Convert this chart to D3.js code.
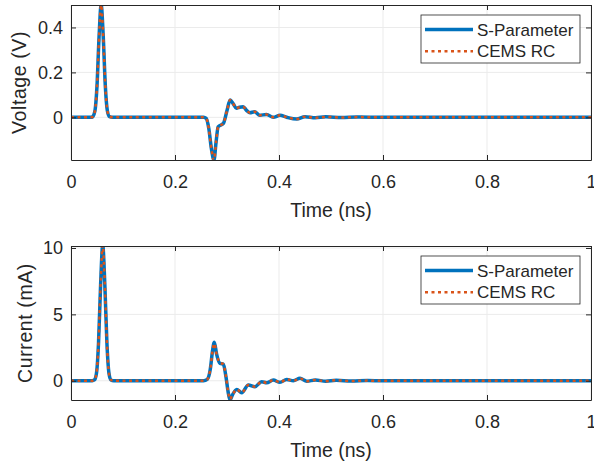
<!DOCTYPE html>
<html>
<head>
<meta charset="utf-8">
<script src="https://cdn.jsdelivr.net/npm/d3@7"></script>
<style>
  body { margin: 0; background: #fff; }
  text { font-family: "Liberation Sans", Arial, sans-serif; fill: #262626; }
</style>
</head>
<body>
<div id="chart"></div>
<script>
// data
var timeV = [0, 0.04, 0.042, 0.046, 0.05, 0.054, 0.058, 0.062, 0.066, 0.07, 0.074, 0.08,
  0.255, 0.26, 0.265, 0.27, 0.275, 0.279, 0.283, 0.293, 0.3, 0.306, 0.312, 0.318, 0.324,
  0.331, 0.338, 0.344, 0.353, 0.363, 0.376, 0.389, 0.402, 0.415, 0.434, 0.45, 0.47, 0.49,
  0.52, 0.55, 0.6, 1.0];
var voltageSP = [0, 0, 0.003, 0.028, 0.14, 0.36, 0.5, 0.36, 0.14, 0.028, 0.003, 0,
  0, -0.005, -0.05, -0.14, -0.19, -0.11, -0.042, -0.027, 0.03, 0.077, 0.06, 0.04, 0.045,
  0.047, 0.03, 0.02, 0.025, 0.009, 0.013, 0.0, 0.009, 0.0, -0.008, 0.003, -0.002, 0.002,
  -0.001, 0.001, 0, 0];
var voltageRC = [0, 0, 0.003, 0.028, 0.14, 0.36, 0.5, 0.36, 0.14, 0.028, 0.003, 0,
  0, -0.005, -0.05, -0.14, -0.19, -0.11, -0.042, -0.027, 0.03, 0.077, 0.06, 0.04, 0.045,
  0.047, 0.03, 0.02, 0.025, 0.009, 0.013, 0.0, 0.009, 0.0, -0.008, 0.003, -0.002, 0.002,
  -0.001, 0.001, 0, 0];

var timeI = [0, 0.041, 0.045, 0.049, 0.053, 0.057, 0.061, 0.065, 0.069, 0.073, 0.077, 0.082,
  0.255, 0.262, 0.268, 0.272, 0.2756, 0.28, 0.2865, 0.2929, 0.298, 0.302, 0.3058, 0.31,
  0.3187, 0.3283, 0.341, 0.3538, 0.3667, 0.3763, 0.389, 0.4019, 0.4148, 0.4275, 0.4404,
  0.4533, 0.47, 0.49, 0.51, 0.54, 0.57, 0.6, 1.0];
var currentSP = [0, 0, 0.06, 0.57, 2.9, 7.3, 10.2, 7.3, 2.9, 0.57, 0.06, 0,
  0, 0.1, 0.9, 2.2, 2.9, 2.0, 1.3, 1.25, 0.3, -0.8, -1.45, -1.1,
  -0.65, -0.9, -0.32, -0.45, -0.07, -0.15, 0.05, -0.12, 0.1, 0, 0.18,
  -0.03, 0.05, -0.03, 0.03, -0.02, 0.01, 0, 0];
var currentRC = [0, 0, 0.06, 0.57, 2.9, 7.3, 10.2, 7.3, 2.9, 0.57, 0.06, 0,
  0, 0.1, 0.9, 2.2, 2.8, 2.0, 1.35, 1.25, 0.3, -0.8, -1.4, -1.1,
  -0.65, -0.9, -0.32, -0.45, -0.07, -0.15, 0.05, -0.12, 0.1, 0, 0.18,
  -0.03, 0.05, -0.03, 0.03, -0.02, 0.01, 0, 0];

var xTicks = [0, 0.2, 0.4, 0.6, 0.8, 1];
var vTicks = [0, 0.2, 0.4];
var iTicks = [0, 5, 10];
var seriesNames = ["S-Parameter", "CEMS RC"];
var colors = ["#0072BD", "#D95319"];

var svgWidth = 594;
var svgHeight = 465;

var svg = d3.select("#chart")
  .append("svg")
  .attr("width", svgWidth)
  .attr("height", svgHeight);

function drawPanel(opts) {
  var left = 71, right = 591;
  var top = opts.top, bottom = opts.bottom;

  var x = d3.scaleLinear().domain([0, 1]).range([left, right]);
  var y = d3.scaleLinear().domain(opts.yDomain).range([bottom, top]);

  var g = svg.append("g");

  // grid
  g.selectAll(".gx").data(xTicks).enter().append("line")
    .attr("x1", d => x(d)).attr("x2", d => x(d))
    .attr("y1", top).attr("y2", bottom)
    .attr("stroke", "#ebebeb").attr("stroke-width", 1);
  g.selectAll(".gy").data(opts.yTicks).enter().append("line")
    .attr("x1", left).attr("x2", right)
    .attr("y1", d => y(d)).attr("y2", d => y(d))
    .attr("stroke", "#ebebeb").attr("stroke-width", 1);

  // lines
  var clipId = "clip" + opts.name;
  svg.append("clipPath").attr("id", clipId)
    .append("rect").attr("x", left).attr("y", top)
    .attr("width", right - left).attr("height", bottom - top);

  var line = d3.line()
    .x(d => x(d[0]))
    .y(d => y(d[1]))
    .curve(d3.curveMonotoneX);

  var lines = g.append("g").attr("clip-path", "url(#" + clipId + ")");
  lines.append("path")
    .datum(opts.time.map((t, i) => [t, opts.s1[i]]))
    .attr("d", line)
    .attr("fill", "none")
    .attr("stroke", colors[0])
    .attr("stroke-width", 3.5)
    .attr("stroke-linejoin", "round");
  lines.append("path")
    .datum(opts.time.map((t, i) => [t, opts.s2[i]]))
    .attr("d", line)
    .attr("fill", "none")
    .attr("stroke", colors[1])
    .attr("stroke-width", 2.5)
    .attr("stroke-dasharray", "3,3.5");

  // box with inward ticks
  var axisColor = "#262626";
  var bottomAxis = d3.axisBottom(x).tickValues(xTicks).tickSizeInner(-5).tickSizeOuter(0)
    .tickFormat(d3.format("~g"));
  var topAxis = d3.axisTop(x).tickValues(xTicks).tickSizeInner(-5).tickSizeOuter(0)
    .tickFormat("");
  var leftAxis = d3.axisLeft(y).tickValues(opts.yTicks).tickSizeInner(-5).tickSizeOuter(0)
    .tickFormat(d3.format("~g"));
  var rightAxis = d3.axisRight(y).tickValues(opts.yTicks).tickSizeInner(-5).tickSizeOuter(0)
    .tickFormat("");

  var ax = [
    g.append("g").attr("transform", `translate(0, ${bottom})`).call(bottomAxis),
    g.append("g").attr("transform", `translate(0, ${top})`).call(topAxis),
    g.append("g").attr("transform", `translate(${left}, 0)`).call(leftAxis),
    g.append("g").attr("transform", `translate(${right}, 0)`).call(rightAxis)
  ];
  ax.forEach(function(a) {
    a.select(".domain").attr("stroke", axisColor).attr("stroke-width", 1);
    a.selectAll(".tick line").attr("stroke", axisColor);
    a.selectAll(".tick text")
      .style("font-family", "Liberation Sans, Arial, sans-serif")
      .style("font-size", "18px")
      .attr("fill", axisColor);
  });
  ax[0].selectAll(".tick text").attr("y", 15.5);
  ax[2].selectAll(".tick text").attr("x", -8);

  // axis labels
  g.append("text")
    .attr("x", (left + right) / 2)
    .attr("y", bottom + 57)
    .attr("text-anchor", "middle")
    .style("font-size", "19.5px")
    .text("Time (ns)");

  g.append("text")
    .attr("transform", `translate(${opts.yLabelX}, ${(top + bottom) / 2}) rotate(-90)`)
    .attr("text-anchor", "middle")
    .style("font-size", "19.5px")
    .style("letter-spacing", "0.6px")
    .text(opts.yLabel);

  // legend
  var lx = 421, ly = top + 10;
  var leg = g.append("g");
  leg.append("rect")
    .attr("x", lx).attr("y", ly)
    .attr("width", 159).attr("height", 48)
    .attr("fill", "#fff")
    .attr("stroke", axisColor).attr("stroke-width", 0.8);
  seriesNames.forEach(function(name, i) {
    var yy = ly + 14.5 + i * 21.7;
    leg.append("line")
      .attr("x1", lx + 4).attr("x2", lx + 52)
      .attr("y1", yy).attr("y2", yy)
      .attr("stroke", colors[i])
      .attr("stroke-width", i === 0 ? 3.5 : 2.5)
      .attr("stroke-dasharray", i === 0 ? null : "3,3.5");
    leg.append("text")
      .attr("x", lx + 56).attr("y", yy + 6)
      .style("font-size", "17px")
      .text(name);
  });
}

drawPanel({
  name: "v", top: 5, bottom: 160, yDomain: [-0.19, 0.5], yTicks: vTicks,
  time: timeV, s1: voltageSP, s2: voltageRC, yLabel: "Voltage (V)", yLabelX: 26
});

drawPanel({
  name: "i", top: 246, bottom: 400, yDomain: [-1.45, 10.15], yTicks: iTicks,
  time: timeI, s1: currentSP, s2: currentRC, yLabel: "Current (mA)", yLabelX: 32
});
</script>
</body>
</html>
